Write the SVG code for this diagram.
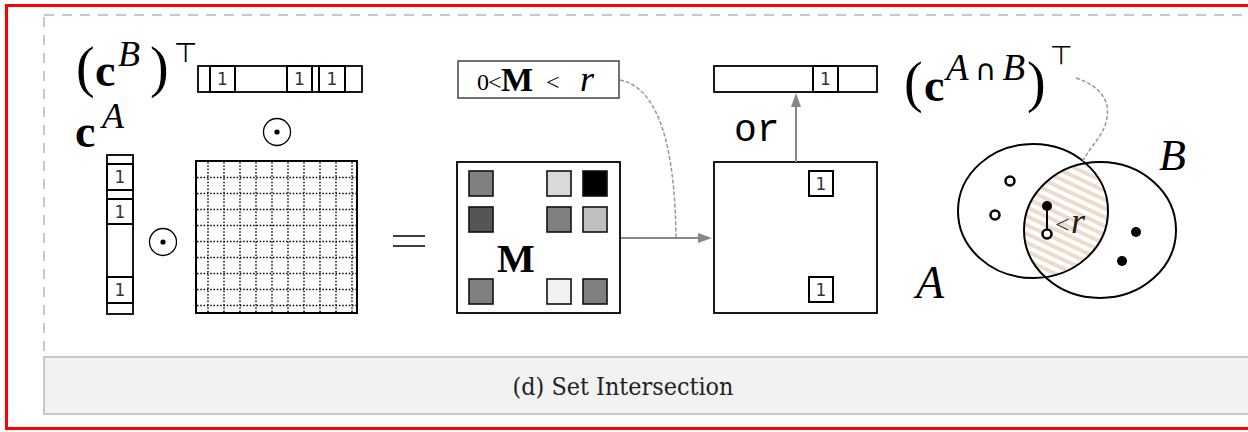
<svg xmlns="http://www.w3.org/2000/svg" width="1248" height="432" viewBox="0 0 1248 432">
<style>
.serif{font-family:"Liberation Serif","Times New Roman",serif}
.b{font-weight:bold}
.i{font-style:italic}
.sym{font-family:"DejaVu Sans",sans-serif}
.one{font-family:"DejaVu Sans",sans-serif;font-size:17px;fill:#333;text-anchor:middle}
.box{fill:#fff;stroke:#000;stroke-width:1.8}
.cell{fill:none;stroke:#000;stroke-width:2}
.dot{stroke:#000;stroke-width:1.4;stroke-dasharray:1.5 1.8}
.sq{stroke:#111;stroke-width:1.6}
.conn{fill:none;stroke:#888;stroke-width:2}
.dash{fill:none;stroke:#999;stroke-width:1.5;stroke-dasharray:4 2}
</style>
<defs>
<pattern id="hatch" patternUnits="userSpaceOnUse" width="8" height="8" patternTransform="rotate(25)">
<rect width="8" height="8" fill="#fff"/>
<rect width="8" height="4" fill="#ecdccb"/>
</pattern>
<clipPath id="clipB"><ellipse cx="1100" cy="230" rx="76" ry="68"/></clipPath>
</defs>
<g id="frame">
<rect x="6.5" y="5.5" width="1260" height="423" fill="#fff" stroke="#f00" stroke-width="3"/>
<rect x="44" y="15" width="1230" height="342" fill="none" stroke="#c8c8c8" stroke-width="2" stroke-dasharray="10 8"/>
</g>
<g id="caption">
<rect x="44" y="357" width="1230" height="57" fill="#f2f2f2" stroke="#c8c8c8" stroke-width="2"/>
<text x="623" y="395" text-anchor="middle" font-family="DejaVu Serif Condensed,DejaVu Serif,serif" font-stretch="condensed" font-size="25" fill="#222" textLength="221" lengthAdjust="spacingAndGlyphs">(d) Set Intersection</text>
</g>
<g id="cB-label">
<text class="serif" x="76" y="86" font-size="56">(</text>
<text class="serif b" x="95" y="86" font-size="46">c</text>
<text class="serif i" x="118" y="66" font-size="36">B</text>
<text class="serif" x="150" y="86" font-size="56">)</text>
<text class="sym" x="174" y="62" font-size="27">⊤</text>
</g>
<g id="cB-vector">
<rect class="box" x="198" y="66" width="164" height="26"/>
<rect class="cell" x="210" y="66" width="25" height="26"/><text class="one" x="222.5" y="85">1</text>
<rect class="cell" x="287" y="66" width="25" height="26"/><text class="one" x="299.5" y="85">1</text>
<rect class="cell" x="319" y="66" width="26" height="26"/><text class="one" x="332" y="85">1</text>
</g>
<g id="cA-label">
<text class="serif b" x="75" y="147" font-size="46">c</text>
<text class="serif i" x="102" y="128" font-size="36">A</text>
</g>
<g id="cA-vector">
<rect class="box" x="107" y="155" width="26" height="159"/>
<rect class="cell" x="107" y="164" width="26" height="26"/><text class="one" x="120" y="183">1</text>
<rect class="cell" x="107" y="199" width="26" height="25"/><text class="one" x="120" y="218">1</text>
<rect class="cell" x="107" y="277" width="26" height="26"/><text class="one" x="120" y="296">1</text>
</g>
<g id="odot-left">
<circle cx="163" cy="242" r="13.5" fill="none" stroke="#000" stroke-width="1.3"/>
<circle cx="163" cy="242" r="2.6" fill="#000"/>
</g>
<g id="odot-top">
<circle cx="277" cy="132" r="13.5" fill="none" stroke="#000" stroke-width="1.3"/>
<circle cx="277" cy="132" r="2.6" fill="#000"/>
</g>
<g id="grid">
<rect x="196" y="161" width="161" height="152" fill="#fff" stroke="#000" stroke-width="2"/>
<path class="dot" d="M208,162V312M224,162V312M240,162V312M256,162V312M272,162V312M288,162V312M304,162V312M320,162V312M336,162V312M352,162V312"/>
<path class="dot" d="M197,177.5H356M197,193.5H356M197,209.5H356M197,225.5H356M197,241.5H356M197,257.5H356M197,273.5H356M197,289.5H356M197,305.5H356"/>
</g>
<g id="equals">
<path d="M393,236H425M393,246H425" stroke="#000" stroke-width="1.6"/>
</g>
<g id="M-matrix">
<rect class="box" x="457" y="162" width="163" height="151"/>
<rect class="sq" x="469" y="171" width="24" height="25" fill="#808080"/>
<rect class="sq" x="547" y="171" width="24" height="25" fill="#d9d9d9"/>
<rect class="sq" x="583" y="171" width="24" height="25" fill="#000"/>
<rect class="sq" x="469" y="207" width="24" height="25" fill="#555"/>
<rect class="sq" x="547" y="207" width="24" height="25" fill="#808080"/>
<rect class="sq" x="583" y="207" width="24" height="25" fill="#c0c0c0"/>
<rect class="sq" x="469" y="279" width="24" height="25" fill="#808080"/>
<rect class="sq" x="547" y="279" width="24" height="25" fill="#f2f2f2"/>
<rect class="sq" x="583" y="279" width="24" height="25" fill="#808080"/>
<text class="serif b" x="497" y="272" font-size="40">M</text>
</g>
<g id="cond-box">
<rect x="458" y="61" width="161" height="37" fill="#fff" stroke="#444" stroke-width="1.5"/>
<text class="serif" x="477" y="90" font-size="24">0</text>
<text class="serif" x="488" y="90" font-size="24">&lt;</text>
<text class="serif b" x="501" y="91" font-size="34">M</text>
<text class="serif" x="546" y="90" font-size="24">&lt;</text>
<text class="serif i" x="580" y="91" font-size="36">r</text>
</g>
<g id="result-box">
<rect class="box" x="714" y="162" width="163" height="151"/>
<rect class="cell" x="809" y="171" width="24" height="25"/><text class="one" x="821" y="190">1</text>
<rect class="cell" x="809" y="277" width="24" height="25"/><text class="one" x="821" y="296">1</text>
</g>
<g id="or-vector">
<rect class="box" x="714" y="66" width="163" height="26"/>
<rect class="cell" x="813" y="66" width="25" height="26"/><text class="one" x="825.5" y="85">1</text>
</g>
<g id="or-label">
<text x="734" y="141" font-family="'Liberation Mono','Courier New',monospace" font-size="38">or</text>
</g>
<g id="cAB-label">
<text class="serif" x="904" y="101" font-size="56">(</text>
<text class="serif b" x="924" y="101" font-size="46">c</text>
<text class="serif" x="946" y="80" font-size="37" textLength="79" lengthAdjust="spacing"><tspan font-style="italic">A</tspan><tspan class="sym" font-size="29">∩</tspan><tspan font-style="italic">B</tspan></text>
<text class="serif" x="1027" y="101" font-size="56">)</text>
<text class="sym" x="1050" y="64" font-size="26">⊤</text>
</g>
<g id="venn">
<ellipse cx="1033" cy="211" rx="75" ry="67" fill="url(#hatch)" clip-path="url(#clipB)"/>
<ellipse cx="1033" cy="211" rx="75" ry="67" fill="none" stroke="#000" stroke-width="2"/>
<ellipse cx="1100" cy="230" rx="76" ry="68" fill="none" stroke="#000" stroke-width="2"/>
<circle cx="1010" cy="181" r="4.5" fill="#fff" stroke="#000" stroke-width="2.5"/>
<circle cx="995" cy="215" r="4.5" fill="#fff" stroke="#000" stroke-width="2.5"/>
<path d="M1047,206V233" stroke="#000" stroke-width="2"/>
<circle cx="1047" cy="206" r="5" fill="#000"/>
<circle cx="1047" cy="234" r="4.5" fill="#fff" stroke="#000" stroke-width="2.5"/>
<circle cx="1136" cy="232" r="5" fill="#000"/>
<circle cx="1122" cy="261" r="5" fill="#000"/>
<text class="serif" x="1055" y="233" font-size="26" fill="#333">&lt;</text>
<text class="serif i" x="1071" y="233" font-size="36" fill="#222">r</text>
<text class="serif i" x="916" y="298" font-size="46">A</text>
<text class="serif i" x="1159" y="170" font-size="44">B</text>
</g>
<g id="connectors">
<path class="dash" d="M620,80 C660,88 675,150 676,238"/>
<path class="conn" d="M621,238H700"/>
<polygon points="712,238 698,233 698,243" fill="#888"/>
<path class="conn" d="M796,162V104"/>
<polygon points="796,93 791,107 801,107" fill="#888"/>
<path class="dash" d="M1076,78 C1100,86 1110,100 1107,118 C1104,136 1090,146 1082,163"/>
</g>
</svg>
